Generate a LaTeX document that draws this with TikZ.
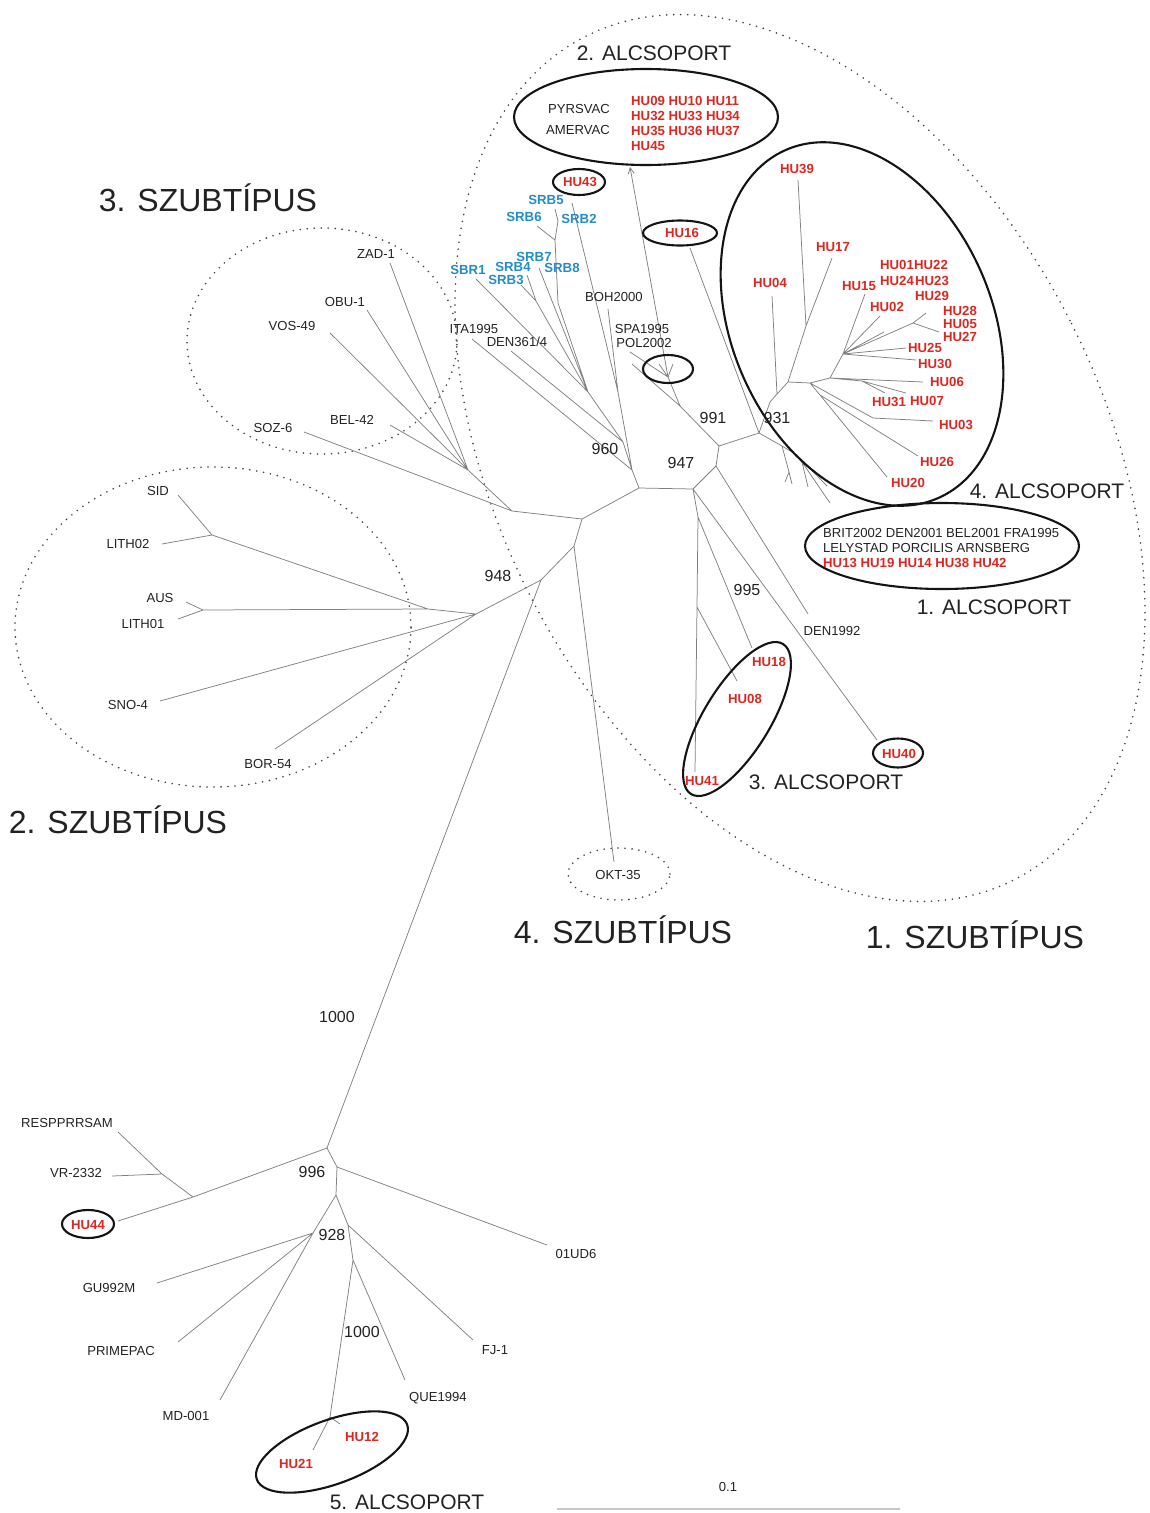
\documentclass[tikz,border=0pt]{standalone}
\usepackage{fontspec}
\setmainfont{Liberation Sans}
\usetikzlibrary{arrows.meta}
\definecolor{hured}{RGB}{222,38,32}
\definecolor{srbblue}{RGB}{36,140,200}
\definecolor{txt}{RGB}{34,34,34}
\begin{document}
\begin{tikzpicture}[x=1pt,y=-1pt,
  edge/.style={draw=black!50, line width=0.75pt},
  grp/.style={draw=black!92, line width=2.1pt},
  sub/.style={draw=black!75, line width=1.8pt, line cap=round, dash pattern=on 0pt off 7pt},
  lab/.style={inner sep=0pt, text=txt, font=\fontsize{13.1}{15}\selectfont},
  hu/.style={inner sep=0pt, text=hured, font=\fontsize{13.2}{15}\selectfont\bfseries},
  srb/.style={inner sep=0pt, text=srbblue, font=\fontsize{13.2}{15}\selectfont\bfseries},
  boot/.style={inner sep=0pt, text=txt, font=\fontsize{16}{18}\selectfont},
  big/.style={inner sep=0pt, text=txt, font=\fontsize{32}{36}\selectfont},
  alc/.style={inner sep=0pt, text=txt, font=\fontsize{21}{24}\selectfont},
  scl/.style={draw=black!22, line width=1.6pt}
]
\useasboundingbox (0,0) rectangle (1149,1513);

% ---------- coordinates: backbone ----------
\coordinate (c1) at (582,519);
\coordinate (c2) at (574,546);
\coordinate (c3) at (541,580);
\coordinate (c4) at (476,614);
\coordinate (c5) at (512,511);
\coordinate (c5b) at (468,470);
\coordinate (c6) at (639,488);
\coordinate (c7) at (693,489);
\coordinate (c8) at (716,466);
\coordinate (c9) at (719,446);
\coordinate (c10) at (759,433);
\coordinate (d0) at (327,1148);
\coordinate (tOKT) at (614,862);

% subtype 3
\coordinate (tZAD) at (390,263);
\coordinate (tOBU) at (367,310);
\coordinate (tVOS) at (330,333);
\coordinate (tBEL) at (390,425);
\coordinate (tSOZ) at (304,432);
% subtype 2
\coordinate (j1) at (212,535);
\coordinate (j2) at (203,610);
\coordinate (j3) at (428,609);
\coordinate (tSID) at (178,495);
\coordinate (tLITH02) at (162,544);
\coordinate (tAUS) at (186,602);
\coordinate (tLITH01) at (178,619);
\coordinate (tSNO) at (160,701);
\coordinate (tBOR) at (275,749);
% subtype 1, left part
\coordinate (n960) at (632,470);
\coordinate (a1) at (618,392);
\coordinate (a2) at (623,442);
\coordinate (tHU43) at (572,203);
\coordinate (tBOH) at (608,309);
\coordinate (tITA) at (472,339);
\coordinate (tDEN) at (511,351);
\coordinate (b1) at (588,392);
\coordinate (b2) at (558,303);
\coordinate (b3) at (536,301);
\coordinate (b4) at (555,240);
\coordinate (b5) at (558,221);
\coordinate (tSBR1) at (476,279);
\coordinate (tSRB3) at (521,285);
\coordinate (tSRB4) at (527,275);
\coordinate (tSRB78) at (539,268);
\coordinate (tSRB6) at (537,226);
\coordinate (tSRB5) at (555,209);
\coordinate (s0) at (680,406);
\coordinate (s1) at (668,377);
\coordinate (tPOL) at (632,364);
\coordinate (tSPA) at (630,352);
\coordinate (tArr) at (630,167);
\coordinate (tw1) at (659,364);
\coordinate (tw2) at (673,364);
\coordinate (tHU16) at (690,248);
% 4th alcsoport
\coordinate (p1) at (770,402);
\coordinate (p1b) at (777,394);
\coordinate (p2) at (788,382);
\coordinate (p3) at (806,326);
\coordinate (p4) at (810,383);
\coordinate (p5) at (830,378);
\coordinate (p7) at (862,381);
\coordinate (p8) at (873,418);
\coordinate (p9) at (820,395);
\coordinate (m) at (843,354);
\coordinate (q) at (913,323);
\coordinate (tHU04) at (772,296);
\coordinate (tHU39) at (798,180);
\coordinate (tHU17) at (832,258);
\coordinate (tHU06) at (923,382);
\coordinate (tHU31) at (885,393);
\coordinate (tHU07) at (906,393);
\coordinate (tHU15) at (865,294);
\coordinate (tHU02) at (880,316);
\coordinate (tw3) at (884,332);
\coordinate (tHU29) at (926,313);
\coordinate (tHU05) at (939,332);
\coordinate (tHU25) at (906,348);
\coordinate (tHU30) at (916,360);
\coordinate (tHU03) at (933,421);
\coordinate (tHU26) at (918,456);
\coordinate (tHU20) at (887,477);
% small cluster
\coordinate (r1) at (797,455);
\coordinate (r2) at (830,503);
\coordinate (r3) at (782,446);
\coordinate (r5) at (802,462);
\coordinate (r6) at (789,472);
\coordinate (tw4) at (827,486);
\coordinate (tw5) at (792,484);
\coordinate (tw6) at (808,487);
\coordinate (tw8) at (785,482);
% subtype 1 lower
\coordinate (t1) at (698,517);
\coordinate (t2) at (697,607);
\coordinate (tHU41) at (695,772);
\coordinate (tHU18) at (752,648);
\coordinate (tHU08) at (737,681);
\coordinate (tHU40) at (877,740);
\coordinate (tDEN92) at (808,614);
% bottom (subtype 5)
\coordinate (d1) at (193,1197);
\coordinate (d2) at (162,1174);
\coordinate (d3) at (337,1167);
\coordinate (e1) at (336,1195);
\coordinate (e2) at (313,1233);
\coordinate (e3) at (348,1225);
\coordinate (e4) at (353,1260);
\coordinate (e5) at (330,1417);
\coordinate (tHU44) at (118,1221);
\coordinate (tRESP) at (118,1132);
\coordinate (tVR) at (112,1176);
\coordinate (t01) at (547,1245);
\coordinate (tMD) at (220,1400);
\coordinate (tGU) at (157,1283);
\coordinate (tPRIME) at (178,1342);
\coordinate (tFJ) at (473,1340);
\coordinate (tQUE) at (405,1380);
\coordinate (tHU21) at (313,1450);
\coordinate (tHU12) at (340,1424);
\coordinate (sb1) at (557,1509);
\coordinate (sb2) at (900,1509);

% ---------- dotted subtype outlines ----------
\draw[sub, rotate around={27:(800,458)}] (800,458) ellipse [x radius=303pt, y radius=473pt];
\draw[sub] (322,341) ellipse [x radius=135pt, y radius=113pt];
\draw[sub] (213,627) ellipse [x radius=198pt, y radius=160pt];
\draw[sub] (619,874) ellipse [x radius=51pt, y radius=26pt];

% ---------- branches ----------
\draw[edge] (c5)--(c1) (c1)--(c6) (c1)--(c2) (c2)--(c3) (c3)--(c4) (c3)--(d0)
  (c6)--(c7) (c7)--(c8) (c8)--(c9) (c9)--(c10) (c2)--(tOKT);
% subtype 3
\draw[edge] (c5)--(c5b) (c5b)--(tZAD) (c5b)--(tOBU) (c5b)--(tVOS) (c5b)--(tBEL) (c5)--(tSOZ);
% subtype 2
\draw[edge] (c4)--(j3) (j3)--(j1) (j3)--(j2) (j1)--(tSID) (j1)--(tLITH02)
  (j2)--(tAUS) (j2)--(tLITH01) (c4)--(tSNO) (c4)--(tBOR);
% subtype 1 left
\draw[edge] (c6)--(n960) (n960)--(a1) (a1)--(tHU43) (a1)--(tBOH) (n960)--(tITA)
  (n960)--(a2) (a2)--(tDEN) (a2)--(b1) (b1)--(tSBR1) (b1)--(b3) (b3)--(tSRB3) (b3)--(tSRB4)
  (b1)--(tSRB78) (b1)--(b2) (b2)--(b4) (b4)--(tSRB6) (b4)--(b5) (b5)--(tSRB5);
\draw[edge] (c9)--(s0) (s0)--(tPOL) (s0)--(s1) (s1)--(tSPA) (s1)--(tw1) (s1)--(tw2);
\draw[edge, -{Straight Barb[length=6pt,width=6pt]}] (s1)--(tArr);
\draw[edge] (c10)--(tHU16);
% 4th alcsoport
\draw[edge] (c10)--(p1) (p1)--(p1b) (p1b)--(p2) (p1b)--(tHU04) (p2)--(p3) (p3)--(tHU39) (p3)--(tHU17)
  (p2)--(p4) (p4)--(p5) (p5)--(tHU06) (p5)--(p7) (p7)--(tHU31) (p7)--(tHU07)
  (p5)--(m) (m)--(tHU15) (m)--(tHU02) (m)--(tw3) (m)--(q) (q)--(tHU29) (q)--(tHU05)
  (m)--(tHU25) (m)--(tHU30) (p4)--(p8) (p8)--(tHU03) (p4)--(p9) (p9)--(tHU20) (p9)--(tHU26);
\draw[edge] (c10)--(r3) (r3)--(r1) (r1)--(r5) (r5)--(r2) (r1)--(tw4) (r3)--(r6) (r6)--(tw5) (r6)--(tw8) (r5)--(tw6);
% subtype 1 lower
\draw[edge] (c7)--(t1) (t1)--(t2) (t2)--(tHU41) (t1)--(tHU18) (t2)--(tHU08) (c7)--(tHU40) (c8)--(tDEN92);
% bottom
\draw[edge] (d0)--(d1) (d1)--(tHU44) (d1)--(d2) (d2)--(tRESP) (d2)--(tVR)
  (d0)--(d3) (d3)--(t01) (d3)--(e1) (e1)--(e2) (e2)--(tMD) (e2)--(tGU) (e2)--(tPRIME)
  (e1)--(e3) (e3)--(tFJ) (e3)--(e4) (e4)--(tQUE) (e4)--(e5) (e5)--(tHU21) (e5)--(tHU12);
% scale bar
\draw[scl] (sb1)--(sb2);

% ---------- group ellipses ----------
\draw[grp] (646,117) ellipse [x radius=132pt, y radius=48pt];
\draw[grp] (579,182) ellipse [x radius=26pt, y radius=13pt];
\draw[grp] (680,233) ellipse [x radius=37pt, y radius=12.5pt];
\draw[grp] (668,369) ellipse [x radius=25pt, y radius=14pt];
\draw[grp, rotate around={-66.4:(862,324)}] (862,324) ellipse [x radius=190pt, y radius=130pt];
\draw[grp] (942,546) ellipse [x radius=137pt, y radius=43pt];
\draw[grp, rotate around={58.5:(737,719)}] (737,719) ellipse [x radius=88pt, y radius=33pt];
\draw[grp] (898,753) ellipse [x radius=25pt, y radius=14.5pt];
\draw[grp] (88,1224) ellipse [x radius=26pt, y radius=14pt];
\draw[grp, rotate around={20:(332,1452)}] (332,1452) ellipse [x radius=80pt, y radius=32pt];

% ---------- titles ----------
\node[big] (T3) at (208,198) {3. SZUBTÍPUS};
\node[big] (T2) at (118,820) {2. SZUBTÍPUS};
\node[big] (T4) at (623,930) {4. SZUBTÍPUS};
\node[big] (T1) at (975,935) {1. SZUBTÍPUS};
\node[alc] (A2) at (654,53) {2. ALCSOPORT};
\node[alc] (A4) at (1047,491) {4. ALCSOPORT};
\node[alc] (A1) at (994,607) {1. ALCSOPORT};
\node[alc] (A3) at (826,782) {3. ALCSOPORT};
\node[alc] (A5) at (407,1502) {5. ALCSOPORT};

% ---------- black labels ----------
\node[lab] (lPYR) at (579,109) {PYRSVAC};
\node[lab] (lAMER) at (578,130) {AMERVAC};
\node[lab] (lZAD) at (376,254) {ZAD-1};
\node[lab] (lOBU) at (345,302) {OBU-1};
\node[lab] (lVOS) at (292,326) {VOS-49};
\node[lab] (lBEL) at (352,420) {BEL-42};
\node[lab] (lSOZ) at (273,428) {SOZ-6};
\node[lab] (lSID) at (158,491) {SID};
\node[lab] (lLITH02) at (128,544) {LITH02};
\node[lab] (lAUS) at (160,598) {AUS};
\node[lab] (lLITH01) at (143,624) {LITH01};
\node[lab] (lSNO) at (128,705) {SNO-4};
\node[lab] (lBOR) at (268,764) {BOR-54};
\node[lab] (lITA) at (474,329) {ITA1995};
\node[lab] (lDEN) at (517,342) {DEN361/4};
\node[lab] (lBOH) at (614,297) {BOH2000};
\node[lab] (lSPA) at (642,329) {SPA1995};
\node[lab] (lPOL) at (644,343) {POL2002};
\node[lab] (lDEN92) at (832,631) {DEN1992};
\node[lab] (lOKT) at (618,875) {OKT-35};
\node[lab] (lRESP) at (67,1123) {RESPPRRSAM};
\node[lab] (lVR) at (76,1173) {VR-2332};
\node[lab] (lGU) at (109,1288) {GU992M};
\node[lab] (lPRIME) at (121,1351) {PRIMEPAC};
\node[lab] (lMD) at (186,1416) {MD-001};
\node[lab] (l01) at (576,1254) {01UD6};
\node[lab] (lFJ) at (495,1350) {FJ-1};
\node[lab] (lQUE) at (438,1398) {QUE1994};
\node[lab] (lscale) at (728,1487) {0.1};
\node[lab, anchor=west] (lBRIT) at (823,533) {BRIT2002 DEN2001 BEL2001 FRA1995};
\node[lab, anchor=west] (lLELY) at (823,548) {LELYSTAD PORCILIS ARNSBERG};

% ---------- bootstrap values ----------
\node[boot] (v960) at (605,449) {960};
\node[boot] (v947) at (681,463) {947};
\node[boot] (v991) at (713,418) {991};
\node[boot] (v931) at (777,418) {931};
\node[boot] (v948) at (498,576) {948};
\node[boot] (v995) at (747,590) {995};
\node[boot] (v1000a) at (337,1017) {1000};
\node[boot] (v996) at (312,1172) {996};
\node[boot] (v928) at (332,1235) {928};
\node[boot] (v1000b) at (362,1332) {1000};

% ---------- blue labels ----------
\node[srb] (lSRB5) at (546,200) {SRB5};
\node[srb] (lSRB6) at (524,217) {SRB6};
\node[srb] (lSRB2) at (579,219) {SRB2};
\node[srb] (lSRB7) at (534,257) {SRB7};
\node[srb] (lSRB4) at (513,267) {SRB4};
\node[srb] (lSRB8) at (562,268) {SRB8};
\node[srb] (lSBR1) at (468,270) {SBR1};
\node[srb] (lSRB3) at (506,280) {SRB3};

% ---------- red labels ----------
\node[hu, anchor=west] (r2a) at (631,101) {HU09 HU10 HU11};
\node[hu, anchor=west] (r2b) at (631,116) {HU32 HU33 HU34};
\node[hu, anchor=west] (r2c) at (631,131) {HU35 HU36 HU37};
\node[hu, anchor=west] (r2d) at (631,146) {HU45};
\node[hu, anchor=west] (r1a) at (823,563) {HU13 HU19 HU14 HU38 HU42};
\node[hu] (lHU43) at (580,182) {HU43};
\node[hu] (lHU16) at (682,233) {HU16};
\node[hu] (lHU39) at (797,169) {HU39};
\node[hu] (lHU17) at (833,247) {HU17};
\node[hu] (lHU04) at (770,283) {HU04};
\node[hu] (lHU15) at (859,286) {HU15};
\node[hu] (lHU01) at (897,265) {HU01};
\node[hu] (lHU22) at (931,265) {HU22};
\node[hu] (lHU24) at (897,281) {HU24};
\node[hu] (lHU23) at (932,281) {HU23};
\node[hu] (lHU29) at (932,296) {HU29};
\node[hu] (lHU02) at (887,307) {HU02};
\node[hu] (lHU28) at (960,311) {HU28};
\node[hu] (lHU05) at (960,324) {HU05};
\node[hu] (lHU27) at (960,337) {HU27};
\node[hu] (lHU25) at (925,348) {HU25};
\node[hu] (lHU30) at (935,364) {HU30};
\node[hu] (lHU06) at (947,382) {HU06};
\node[hu] (lHU31) at (889,402) {HU31};
\node[hu] (lHU07) at (927,401) {HU07};
\node[hu] (lHU03) at (956,425) {HU03};
\node[hu] (lHU26) at (937,462) {HU26};
\node[hu] (lHU20) at (908,483) {HU20};
\node[hu] (lHU18) at (769,662) {HU18};
\node[hu] (lHU08) at (745,699) {HU08};
\node[hu] (lHU41) at (702,781) {HU41};
\node[hu] (lHU40) at (899,754) {HU40};
\node[hu] (lHU44) at (88,1225) {HU44};
\node[hu] (lHU12) at (362,1437) {HU12};
\node[hu] (lHU21) at (296,1464) {HU21};
\end{tikzpicture}
\end{document}
